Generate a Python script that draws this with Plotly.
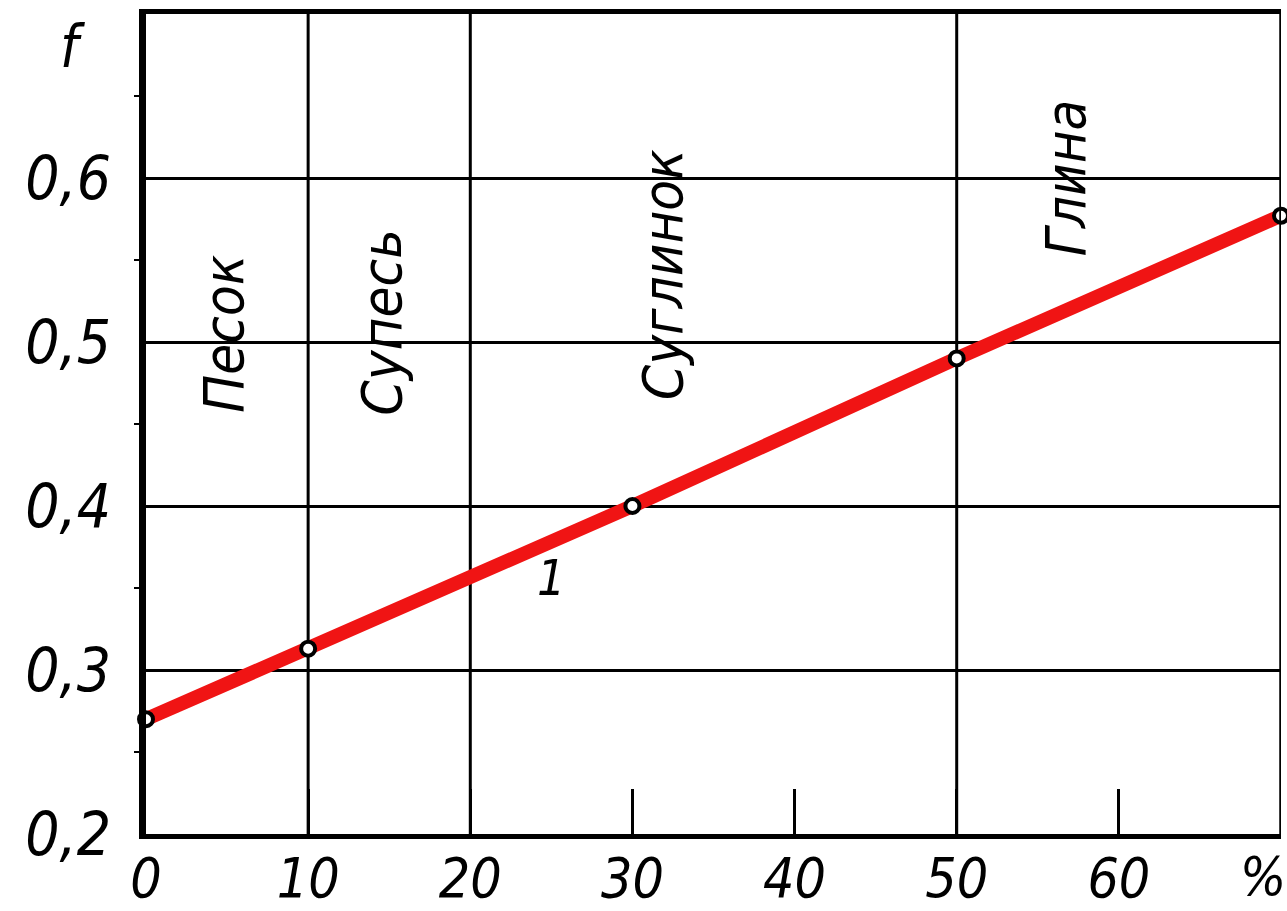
import plotly.graph_objects as go

# Clay content (%) and friction coefficient f
clay_pct = [0, 10, 30, 50, 70]
friction = [0.27, 0.313, 0.40, 0.49, 0.577]

x_ticks = [0, 10, 20, 30, 40, 50, 60]
x_tick_text = ["0", "10", "20", "30", "40", "50", "60"]
y_ticks = [0.2, 0.3, 0.4, 0.5, 0.6]
y_tick_text = ["0,2", "0,3", "0,4", "0,5", "0,6"]
x_grid = [10, 20, 50]

soil_names = ["Песок", "Супесь", "Суглинок", "Глина"]
soil_x = [4.8, 14.5, 31.9, 56.7]
soil_y = [0.505, 0.512, 0.541, 0.600]

FONT = "DejaVu Sans Condensed, DejaVu Sans, sans-serif"
INK = "#000000"

fig = go.Figure()

fig.add_trace(go.Scatter(
    x=clay_pct, y=friction,
    mode="lines+markers",
    line=dict(color="#f01414", width=14),
    marker=dict(size=14, color="white", line=dict(color=INK, width=4)),
    cliponaxis=False,
    showlegend=False,
))

# full-height vertical grid lines and right frame edge
for gx in x_grid:
    fig.add_shape(type="line", xref="x", yref="paper", x0=gx, x1=gx, y0=0, y1=1,
                  line=dict(color=INK, width=3), layer="below")
fig.add_shape(type="line", xref="x", yref="paper", x0=70, x1=70, y0=0, y1=1,
              line=dict(color=INK, width=3.5), layer="above")

# soil type labels
for name, sx, sy in zip(soil_names, soil_x, soil_y):
    fig.add_annotation(x=sx, y=sy, xref="x", yref="y", text=name, textangle=-90,
                       showarrow=False,
                       font=dict(family=FONT, size=56, color=INK, style="italic"))

fig.add_annotation(x=25.0, y=0.356, xref="x", yref="y", text="1", showarrow=False,
                   font=dict(family=FONT, size=50, color=INK, style="italic"))
fig.add_annotation(x=-0.065, y=0.96, xref="paper", yref="paper", text="f", showarrow=False,
                   xanchor="center", yanchor="middle",
                   font=dict(family=FONT, size=58, color=INK, style="italic"))
fig.add_annotation(x=68.9, y=-0.052, xref="x", yref="paper", text="%", showarrow=False,
                   xanchor="center", yanchor="middle",
                   font=dict(family=FONT, size=54, color=INK, style="italic"))

fig.update_xaxes(
    range=[0, 70],
    tickvals=x_ticks, ticktext=x_tick_text,
    ticks="inside", ticklen=45, tickwidth=2.5, tickcolor=INK,
    showgrid=False, zeroline=False,
    showline=True, linewidth=5, linecolor=INK, mirror=True,
    ticklabelstandoff=-8,
    automargin=False,
    tickfont=dict(family=FONT, size=55, color=INK, style="italic"),
)
fig.update_yaxes(
    range=[0.2, 0.7],
    tickvals=y_ticks, ticktext=y_tick_text,
    ticks="",
    showgrid=True, gridcolor=INK, gridwidth=3,
    zeroline=False,
    showline=True, linewidth=7, linecolor=INK,
    minor=dict(tickvals=[0.25, 0.35, 0.45, 0.55, 0.65], ticks="outside",
               ticklen=5, tickwidth=2, tickcolor=INK, showgrid=False),
    ticklabelstandoff=16,
    automargin=False,
    tickfont=dict(family=FONT, size=60, color=INK, style="italic"),
)

fig.update_layout(
    width=1287, height=911,
    margin=dict(l=146, r=6, t=14, b=77, autoexpand=False),
    paper_bgcolor="white", plot_bgcolor="white",
    showlegend=False,
)

fig.write_html("out.html")
